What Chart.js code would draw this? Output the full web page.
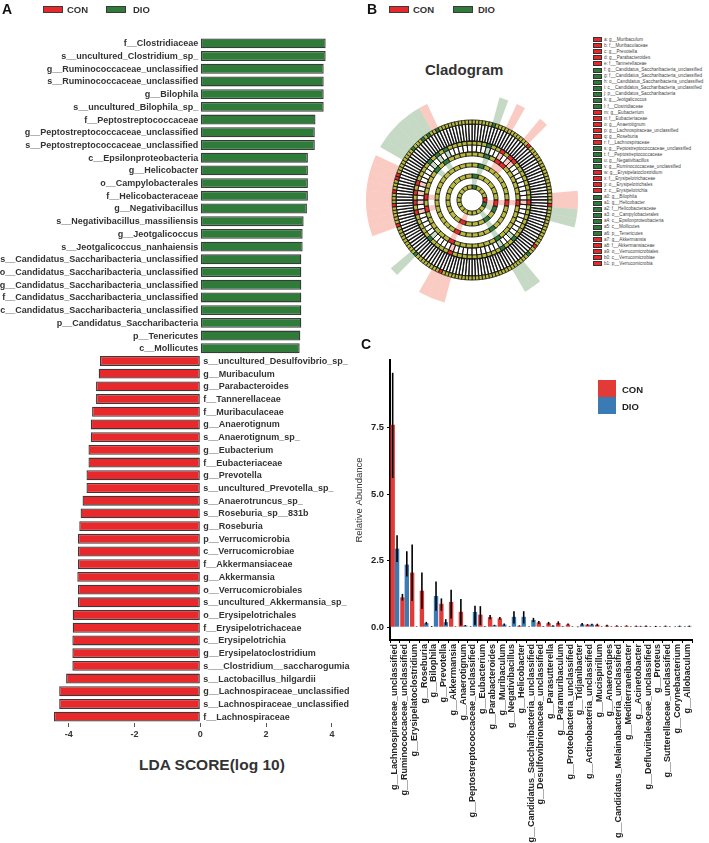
<!DOCTYPE html>
<html lang="en">
<head>
<meta charset="UTF-8">
<title>LEfSe CON vs DIO</title>
<script src="https://cdn.jsdelivr.net/npm/chart.js"></script>
<style>
  body { margin: 0; background: #fff; font-family: "Liberation Sans", Arial, sans-serif; }
  #page { position: relative; width: 709px; height: 843px; overflow: hidden; background: #fff; }
  canvas { position: absolute; }
  .abs { position: absolute; white-space: nowrap; color: #333; }
  .tag { font-weight: bold; font-size: 14px; color: #111; }
  .key { position: absolute; width: 18px; height: 5px; border: 1.5px solid #3a3a3a; }
  .keytxt { font-weight: bold; font-size: 9.5px; }
  #cladoKeys { position: absolute; left: 593px; top: 37px; }
  .ck { position: relative; height: 6.05px; font-size: 4.6px; line-height: 6.05px; color: #444; white-space: nowrap; }
  .ck i { display: inline-block; width: 7px; height: 3px; border: 1px solid #333; margin-right: 2px; vertical-align: middle; }
</style>
</head>
<body>
<div id="page">
  <canvas id="lda" width="350" height="750" style="left:0;top:0"></canvas>
  <canvas id="clado" width="212" height="212" style="left:366px;top:94px"></canvas>
  <canvas id="abund" width="369" height="513" style="left:340px;top:330px"></canvas>

  <div class="abs tag" style="left:2px;top:1px">A</div>
  <div class="key" style="left:43px;top:6px;background:#e8282b"></div>
  <div class="abs keytxt" style="left:67px;top:4px">CON</div>
  <div class="key" style="left:106px;top:6px;background:#2f7b3a"></div>
  <div class="abs keytxt" style="left:133px;top:4px">DIO</div>
  <div class="abs" style="left:139px;top:756px;font-weight:bold;font-size:15.5px;color:#333">LDA SCORE(log 10)</div>

  <div class="abs tag" style="left:367px;top:1px">B</div>
  <div class="key" style="left:389px;top:6px;background:#e8282b"></div>
  <div class="abs keytxt" style="left:413px;top:4px">CON</div>
  <div class="key" style="left:453px;top:6px;background:#2f7b3a"></div>
  <div class="abs keytxt" style="left:478px;top:4px">DIO</div>
  <div class="abs" style="left:425px;top:61px;font-weight:bold;font-size:15px;color:#333">Cladogram</div>
  <div id="cladoKeys"></div>

  <div class="abs tag" style="left:361px;top:336px">C</div>
  <div style="position:absolute;left:598px;top:380px;width:18px;height:17px;background:#e23a36"></div>
  <div style="position:absolute;left:598px;top:397px;width:18px;height:17px;background:#3b7bb4"></div>
  <div class="abs keytxt" style="left:622px;top:384px;color:#222">CON</div>
  <div class="abs keytxt" style="left:622px;top:401px;color:#222">DIO</div>
</div>

<script>
// ---- A: LDA scores (positive = DIO, negative = CON)
const ldaTaxa = [
  'f__Clostridiaceae', 's__uncultured_Clostridium_sp_', 'g__Ruminococcaceae_unclassified',
  's__Ruminococcaceae_unclassified', 'g__Bilophila', 's__uncultured_Bilophila_sp_',
  'f__Peptostreptococcaceae', 'g__Peptostreptococcaceae_unclassified', 's__Peptostreptococcaceae_unclassified',
  'c__Epsilonproteobacteria', 'g__Helicobacter', 'o__Campylobacterales', 'f__Helicobacteraceae',
  'g__Negativibacillus', 's__Negativibacillus_massiliensis', 'g__Jeotgalicoccus', 's__Jeotgalicoccus_nanhaiensis',
  's__Candidatus_Saccharibacteria_unclassified', 'o__Candidatus_Saccharibacteria_unclassified',
  'g__Candidatus_Saccharibacteria_unclassified', 'f__Candidatus_Saccharibacteria_unclassified',
  'c__Candidatus_Saccharibacteria_unclassified', 'p__Candidatus_Saccharibacteria', 'p__Tenericutes', 'c__Mollicutes',
  's__uncultured_Desulfovibrio_sp_', 'g__Muribaculum', 'g__Parabacteroides', 'f__Tannerellaceae',
  'f__Muribaculaceae', 'g__Anaerotignum', 's__Anaerotignum_sp_', 'g__Eubacterium', 'f__Eubacteriaceae',
  'g__Prevotella', 's__uncultured_Prevotella_sp_', 's__Anaerotruncus_sp_', 's__Roseburia_sp__831b',
  'g__Roseburia', 'p__Verrucomicrobia', 'c__Verrucomicrobiae', 'f__Akkermansiaceae', 'g__Akkermansia',
  'o__Verrucomicrobiales', 's__uncultured_Akkermansia_sp_', 'o__Erysipelotrichales', 'f__Erysipelotrichaceae',
  'c__Erysipelotrichia', 'g__Erysipelatoclostridium', 's___Clostridium__saccharogumia', 's__Lactobacillus_hilgardii',
  'g__Lachnospiraceae_unclassified', 's__Lachnospiraceae_unclassified', 'f__Lachnospiraceae'
];
const ldaScores = [
  3.81, 3.81, 3.75, 3.75, 3.75, 3.75, 3.50, 3.48, 3.48, 3.27, 3.27, 3.27, 3.27,
  3.24, 3.14, 3.11, 3.11, 3.07, 3.07, 3.07, 3.07, 3.07, 3.07, 3.04, 3.02,
  -3.05, -3.09, -3.17, -3.17, -3.29, -3.33, -3.33, -3.40, -3.40, -3.46, -3.46, -3.58, -3.64,
  -3.68, -3.72, -3.72, -3.72, -3.74, -3.72, -3.72, -3.88, -3.88, -3.89, -3.89, -3.89, -4.08,
  -4.29, -4.29, -4.45
];
const ldaTicks = [-4, -2, 0, 2, 4];

// ---- B: cladogram legend and tree levels (index of CON / DIO taxa per level)
const cladoKeys = ['a','b','c','d','e','f','g','h','i','j','k','l','m','n','o','p','q','r','s','t','u','v','w','x','y','z',
  'a0','a1','a2','a3','a4','a5','a6','a7','a8','a9','b0','b1'];
const cladoNames = ['g__Muribaculum','f__Muribaculaceae','g__Prevotella','g__Parabacteroides','f__Tannerellaceae',
  'g__Candidatus_Saccharibacteria_unclassified','f__Candidatus_Saccharibacteria_unclassified',
  'o__Candidatus_Saccharibacteria_unclassified','c__Candidatus_Saccharibacteria_unclassified',
  'p__Candidatus_Saccharibacteria','g__Jeotgalicoccus','f__Clostridiaceae','g__Eubacterium','f__Eubacteriaceae',
  'g__Anaerotignum','g__Lachnospiraceae_unclassified','g__Roseburia','f__Lachnospiraceae',
  'g__Peptostreptococcaceae_unclassified','f__Peptostreptococcaceae','g__Negativibacillus',
  'g__Ruminococcaceae_unclassified','g__Erysipelatoclostridium','f__Erysipelotrichaceae','o__Erysipelotrichales',
  'c__Erysipelotrichia','g__Bilophila','g__Helicobacter','f__Helicobacteraceae','o__Campylobacterales',
  'c__Epsilonproteobacteria','c__Mollicutes','p__Tenericutes','g__Akkermansia','f__Akkermansiaceae',
  'o__Verrucomicrobiales','c__Verrucomicrobiae','p__Verrucomicrobia'];
const cladoGroup = ['CON','CON','CON','CON','CON','DIO','DIO','DIO','DIO','DIO','DIO','DIO','CON','CON','CON','CON',
  'CON','CON','DIO','DIO','DIO','DIO','CON','CON','CON','CON','DIO','DIO','DIO','DIO','DIO','DIO','DIO',
  'CON','CON','CON','CON','CON'];

const levelCounts = { shade: 72, species: 144, genus: 72, family: 48, order: 36, class: 24, phylum: 18 };
const levelCON = {
  shade: [5, 8, 17, 18, 39, 40, 41, 50, 51, 52, 53, 54, 55, 56, 57, 58, 66],
  species: [18, 37, 50, 81, 100, 106, 110, 114, 115],
  genus: [6, 8, 9, 18, 40, 51, 53, 55, 57],
  family: [4, 5, 12, 27, 34, 36],
  order: [9, 20],
  class: [6, 13],
  phylum: [4]
};
const levelDIO = {
  shade: [3, 19, 20, 28, 29, 45, 60, 61, 62, 63, 64, 65],
  species: [6, 53, 90, 124, 128, 130, 133],
  genus: [3, 26, 29, 45, 62, 64, 66],
  family: [2, 19, 41, 43],
  order: [1, 14],
  class: [0, 7, 9],
  phylum: [0, 5]
};

// ---- C: relative abundance (%)
const genera = ['g__Lachnospiraceae_unclassified','g__Ruminococcaceae_unclassified','g__Erysipelatoclostridium',
  'g__Roseburia','g__Bilophila','g__Prevotella','g__Akkermansia','g__Anaerotignum',
  'g__Peptostreptococcaceae_unclassified','g__Eubacterium','g__Parabacteroides','g__Muribaculum',
  'g__Negativibacillus','g__Helicobacter','g__Candidatus_Saccharibacteria_unclassified',
  'g__Desulfovibrionaceae_unclassified','g__Parasutterella','g__Paramuribaculum','g__Proteobacteria_unclassified',
  'g__Tidjanibacter','g__Actinobacteria_unclassified','g__Mucispirillum','g__Anaerostipes',
  'g__Candidatus_Melainabacteria_unclassified','g__Mediterraneibacter','g__Acinetobacter',
  'g__Defluviitaleaceae_unclassified','g__Proteus','g__Sutterellaceae_unclassified','g__Corynebacterium','g__Allobaculum'];
const conMean = [7.6, 1.12, 2.05, 1.37, 0.02, 0.88, 0.95, 0.58, 0.02, 0.47, 0.38, 0.33, 0.02, 0.05, 0.02,
  0.18, 0.15, 0.16, 0.10, 0.01, 0.09, 0.09, 0.06, 0.05, 0.05, 0.04, 0.04, 0.03, 0.04, 0.02, 0.02];
const conLow = [5.6, 1.0, 0.98, 0.68, 0.01, 0.62, 0.33, 0.06, 0.01, 0.08, 0.3, 0.29, 0.01, 0.03, 0.01,
  0.13, 0.1, 0.1, 0.07, 0.0, 0.06, 0.05, 0.03, 0.03, 0.03, 0.02, 0.02, 0.01, 0.02, 0.01, 0.01];
const conHigh = [9.55, 1.25, 3.1, 2.05, 0.04, 1.08, 1.41, 1.06, 0.03, 0.79, 0.46, 0.38, 0.03, 0.07, 0.03,
  0.23, 0.2, 0.22, 0.14, 0.02, 0.12, 0.13, 0.09, 0.07, 0.07, 0.06, 0.06, 0.05, 0.06, 0.03, 0.03];
const dioMean = [2.95, 2.35, 0.02, 0.15, 1.17, 0.19, 0.02, 0.06, 0.57, 0.03, 0.07, 0.10, 0.39, 0.39, 0.27,
  0.03, 0.05, 0.03, 0.02, 0.11, 0.10, 0.02, 0.02, 0.02, 0.02, 0.03, 0.02, 0.02, 0.02, 0.04, 0.04];
const dioLow = [2.45, 1.9, 0.01, 0.1, 0.62, 0.08, 0.01, 0.04, 0.08, 0.02, 0.05, 0.06, 0.14, 0.14, 0.19,
  0.02, 0.03, 0.02, 0.01, 0.06, 0.07, 0.01, 0.01, 0.01, 0.01, 0.02, 0.01, 0.01, 0.01, 0.02, 0.02];
const dioHigh = [3.45, 2.85, 0.03, 0.2, 1.72, 0.3, 0.03, 0.08, 0.81, 0.04, 0.09, 0.14, 0.6, 0.6, 0.35,
  0.04, 0.07, 0.04, 0.03, 0.16, 0.13, 0.03, 0.03, 0.03, 0.03, 0.05, 0.03, 0.03, 0.03, 0.06, 0.06];
const abundTicks = [0, 2.5, 5, 7.5];

const RED = '#e8282b', GREEN = '#2f7b3a';
Chart.defaults.font.family = '"Liberation Sans", Arial, sans-serif';
Chart.defaults.animation = false;

// ---------- panel A
const sideLabels = {
  id: 'sideLabels',
  afterDatasetsDraw(chart) {
    const { ctx, scales: { x, y } } = chart;
    const x0 = x.getPixelForValue(0);
    ctx.save();
    ctx.font = 'bold 9px "Liberation Sans", Arial';
    ctx.fillStyle = '#333';
    ctx.textBaseline = 'middle';
    ldaTaxa.forEach((name, i) => {
      const yy = y.getPixelForValue(i) + 0.5;
      if (ldaScores[i] > 0) { ctx.textAlign = 'right'; ctx.fillText(name, x0 - 2, yy); }
      else { ctx.textAlign = 'left'; ctx.fillText(name, x0 + 3, yy); }
    });
    ctx.restore();
  }
};

new Chart(document.getElementById('lda'), {
  type: 'bar',
  data: {
    labels: ldaTaxa,
    datasets: [{
      data: ldaScores,
      backgroundColor: ldaScores.map(v => v > 0 ? GREEN : RED),
      borderColor: '#3a3a3a',
      borderWidth: 1.3,
      borderSkipped: false,
      barPercentage: 0.78,
      categoryPercentage: 1
    }]
  },
  options: {
    responsive: false,
    indexAxis: 'y',
    layout: { padding: { left: 49, right: 11.5, top: 37, bottom: 7 } },
    plugins: { legend: { display: false }, tooltip: { enabled: false } },
    scales: {
      y: { display: false },
      x: {
        min: -4.6, max: 4.2,
        afterBuildTicks: s => { s.ticks = ldaTicks.map(v => ({ value: v })); },
        afterFit: s => { s.height = 20; },
        border: { display: false },
        grid: { drawOnChartArea: false, tickLength: 4, color: '#555' },
        ticks: { color: '#333', padding: 2, font: { size: 9, weight: 'bold' } }
      }
    }
  },
  plugins: [sideLabels]
});

// ---------- panel B (cladogram drawn as concentric doughnut rings)
const cladoBox = document.getElementById('cladoKeys');
cladoKeys.forEach((k, i) => {
  const row = document.createElement('div');
  row.className = 'ck';
  row.innerHTML = '<i style="background:' + (cladoGroup[i] === 'CON' ? RED : GREEN) + '"></i>' + k + ': ' + cladoNames[i];
  cladoBox.appendChild(row);
});

// ring stack, outermost first: [level, kind, thickness]
const ringStack = [
  ['shade', 'shade', 26], ['species', 'node', 4], ['species', 'band', 17],
  ['genus', 'node', 4], ['genus', 'band', 7], ['family', 'node', 4], ['family', 'band', 7],
  ['order', 'node', 4], ['order', 'band', 7], ['class', 'node', 4], ['class', 'band', 7],
  ['phylum', 'node', 4]
];
const TINT_CON = 'rgba(240,130,110,0.42)', TINT_DIO = 'rgba(110,160,110,0.40)';
function ringSet([level, kind, thick]) {
  const n = levelCounts[level];
  const con = levelCON[level], dio = levelDIO[level];
  const fills = [];
  for (let i = 0; i < n; i++) {
    if (kind === 'node') fills.push(con.includes(i) ? RED : dio.includes(i) ? GREEN : '#b9ba3c');
    else if (kind === 'shade' || level !== 'species') fills.push(con.includes(i) ? TINT_CON : dio.includes(i) ? TINT_DIO : 'rgba(255,255,255,0)');
    else fills.push('#fff');
  }
  let bw = 0;
  if (kind === 'node') bw = 0.9;
  if (kind === 'band' && level === 'species') bw = 1.3;
  if (kind === 'band' && level === 'genus') bw = 0.9;
  return {
    data: new Array(n).fill(1),
    backgroundColor: fills,
    borderColor: '#151515',
    borderWidth: bw,
    weight: thick
  };
}
new Chart(document.getElementById('clado'), {
  type: 'doughnut',
  data: { datasets: ringStack.map(ringSet) },
  options: {
    responsive: false,
    cutout: '10.4%',
    plugins: { legend: { display: false }, tooltip: { enabled: false } }
  }
});

// ---------- panel C
const errBars = {
  id: 'errBars',
  afterDatasetsDraw(chart) {
    const { ctx } = chart;
    const y = chart.scales.y;
    ctx.save();
    ctx.strokeStyle = '#000';
    ctx.lineWidth = 1.6;
    [[conLow, conHigh], [dioLow, dioHigh]].forEach(([lo, hi], d) => {
      chart.getDatasetMeta(d).data.forEach((bar, i) => {
        ctx.beginPath();
        ctx.moveTo(bar.x, y.getPixelForValue(lo[i]));
        ctx.lineTo(bar.x, y.getPixelForValue(hi[i]));
        ctx.stroke();
      });
    });
    ctx.restore();
  }
};

new Chart(document.getElementById('abund'), {
  type: 'bar',
  data: {
    labels: genera,
    datasets: [
      { label: 'CON', data: conMean, backgroundColor: '#e23a36', categoryPercentage: 0.9, barPercentage: 1 },
      { label: 'DIO', data: dioMean, backgroundColor: '#3b7bb4', categoryPercentage: 0.9, barPercentage: 1 }
    ]
  },
  options: {
    responsive: false,
    layout: { padding: { left: 0, right: 17, top: 30, bottom: 0 } },
    plugins: { legend: { display: false }, tooltip: { enabled: false } },
    scales: {
      x: {
        afterFit: s => { s.height = 203; },
        border: { display: true, color: '#000', width: 2 },
        grid: { drawOnChartArea: false, tickLength: 3, color: '#000' },
        ticks: { autoSkip: false, minRotation: 90, maxRotation: 90, padding: 1, color: '#222', font: { size: 9, weight: 'bold' } }
      },
      y: {
        min: -0.48, max: 10.03,
        afterBuildTicks: s => { s.ticks = abundTicks.map(v => ({ value: v })); },
        afterFit: s => { s.width = 50; },
        border: { display: true, color: '#000', width: 2 },
        grid: { drawOnChartArea: false, tickLength: 3, color: '#000' },
        ticks: { color: '#222', padding: 3, font: { size: 9.4, weight: 'bold' }, callback: v => v.toFixed(1) },
        title: { display: true, text: 'Relative Abundance', color: '#333', font: { size: 9.5 }, padding: { top: 14, bottom: 0 } }
      }
    }
  },
  plugins: [errBars]
});
</script>
</body>
</html>
